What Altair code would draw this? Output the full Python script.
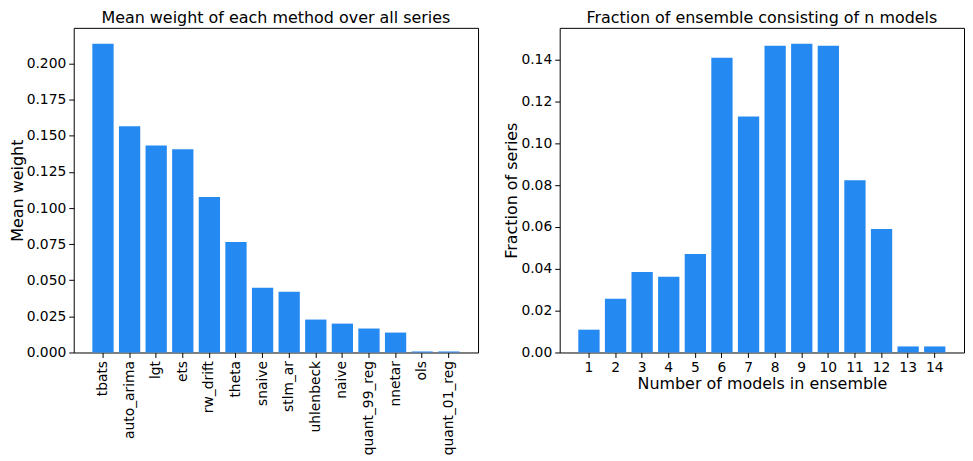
import altair as alt
import pandas as pd

methods = ["tbats", "auto_arima", "lgt", "ets", "rw_drift", "theta", "snaive",
           "stlm_ar", "uhlenbeck", "naive", "quant_99_reg", "nnetar", "ols", "quant_01_reg"]
mean_weights = [0.2138, 0.1566, 0.1434, 0.1407, 0.1076, 0.0766, 0.0448,
                0.0421, 0.0228, 0.0200, 0.0166, 0.0138, 0.0007, 0.0007]

n_models = [1, 2, 3, 4, 5, 6, 7, 8, 9, 10, 11, 12, 13, 14]
fractions = [0.0109, 0.0257, 0.0385, 0.0362, 0.0471, 0.1408, 0.1127,
             0.1465, 0.1475, 0.1465, 0.0823, 0.0590, 0.0029, 0.0029]

left_ticks = [0.0, 0.025, 0.05, 0.075, 0.1, 0.125, 0.15, 0.175, 0.2]
right_ticks = [0.0, 0.02, 0.04, 0.06, 0.08, 0.10, 0.12, 0.14]

BLUE = "#2589F2"
FONT = "DejaVu Sans"

df1 = pd.DataFrame({"method": methods, "weight": mean_weights})
df2 = pd.DataFrame({"n": n_models, "frac": fractions})

def title(t):
    return alt.TitleParams(text=t, frame="group", anchor="middle", fontSize=16,
                           fontWeight="normal", font=FONT, color="black", offset=2)

left = alt.Chart(df1).mark_bar(color=BLUE).encode(
    x=alt.X("method:N", sort=methods, title=None,
            scale=alt.Scale(paddingInner=0.2, paddingOuter=0.7),
            axis=alt.Axis(labelAngle=270, labelAlign="right", labelBaseline="middle")),
    y=alt.Y("weight:Q", title="Mean weight",
            scale=alt.Scale(domain=[0, 0.2248], nice=False, zero=True),
            axis=alt.Axis(values=left_ticks, format=".3f")),
).properties(width=406, height=326, title=title("Mean weight of each method over all series"))

right = alt.Chart(df2).mark_bar(color=BLUE).encode(
    x=alt.X("n:O", title="Number of models in ensemble",
            scale=alt.Scale(paddingInner=0.2, paddingOuter=0.7),
            axis=alt.Axis(labelAngle=0, labelAlign="center", labelBaseline="top", titlePadding=1)),
    y=alt.Y("frac:Q", title="Fraction of series",
            scale=alt.Scale(domain=[0, 0.1551], nice=False, zero=True),
            axis=alt.Axis(values=right_ticks, format=".2f")),
).properties(width=406, height=326, title=title("Fraction of ensemble consisting of n models"))

chart = alt.hconcat(left, right, spacing=24).properties(
    padding={"left": 0, "top": 0, "right": 0, "bottom": 0},
    background="white",
).configure_view(
    stroke="black", strokeWidth=1
).configure_axis(
    domain=False, grid=False,
    labelFont=FONT, labelFontSize=13.9, labelColor="black",
    titleFont=FONT, titleFontSize=16, titleFontWeight="normal", titleColor="black",
    tickColor="black", tickSize=5, tickWidth=1, labelPadding=3, titlePadding=1,
)

chart.save("out.html", embed_options={"renderer": "svg", "actions": False})
